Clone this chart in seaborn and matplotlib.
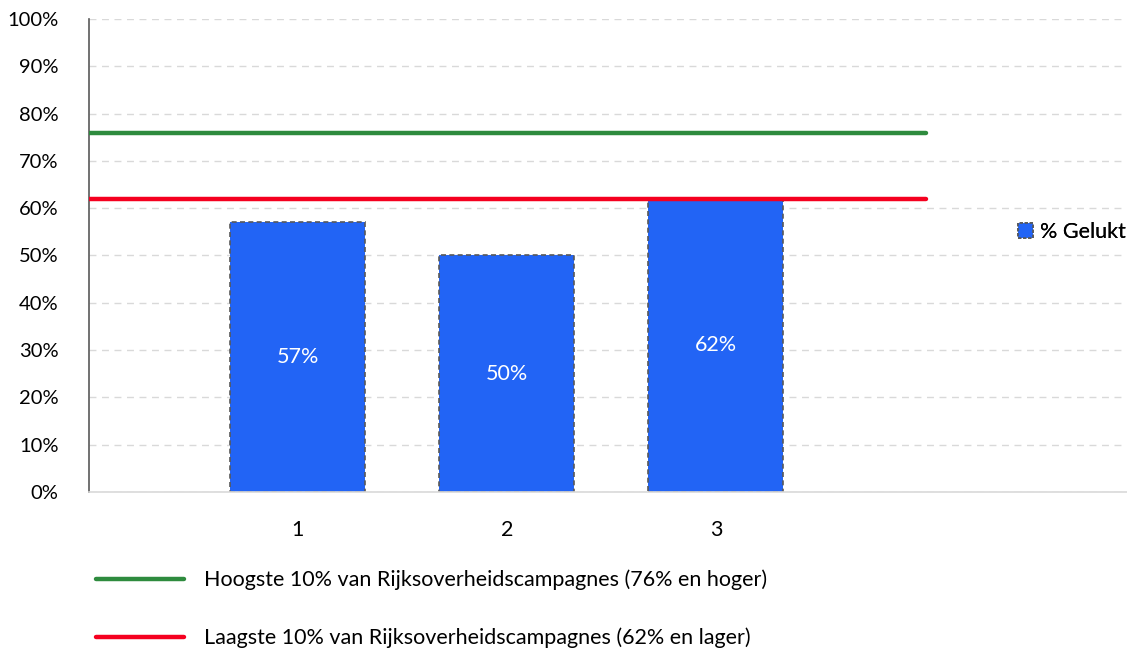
import matplotlib
matplotlib.use("Agg")
import matplotlib.pyplot as plt
from matplotlib.lines import Line2D
from matplotlib.patches import Patch
import seaborn as sns
import pandas as pd

categories = ["1", "2", "3"]
gelukt = [57, 50, 62]
hoogste = 76
laagste = 62
yticks = [0, 10, 20, 30, 40, 50, 60, 70, 80, 90, 100]
bar_label = "% Gelukt"
hoog_label = "Hoogste 10% van Rijksoverheidscampagnes (76% en hoger)"
laag_label = "Laagste 10% van Rijksoverheidscampagnes (62% en lager)"

sns.set_theme(style="white")
plt.rcParams["font.family"] = ["Lato", "DejaVu Sans"]
plt.rcParams["text.color"] = "black"

BLUE = "#2264F5"
GREEN = "#2E8B3E"
RED = "#F5001F"

df = pd.DataFrame({"cat": categories, "val": gelukt})

fig = plt.figure(figsize=(11.27, 6.5), dpi=100)
ax = fig.add_axes([89/1127, 1-492/650, 1-89/1127, (492-19)/650])

sns.barplot(data=df, x="cat", y="val", color=BLUE, width=0.646, ax=ax,
            saturation=1, edgecolor="#595959", linewidth=1.2, linestyle=(0, (3, 2)))
for p in ax.patches:
    p.set_facecolor(BLUE)

ax.set_xlim(-1, 3.967)
ax.set_ylim(0, 100)
ax.set_yticks(yticks)
ax.set_yticklabels([f"{v}%" for v in yticks])
ax.yaxis.grid(True, color="#d9d9d9", linestyle=(0, (5, 4)), linewidth=1)
ax.set_axisbelow(True)
ax.set_xlabel("")
ax.set_ylabel("")
ax.tick_params(axis="both", length=0, colors="black")
ax.tick_params(axis="x", pad=20, labelsize=15.5)
ax.tick_params(axis="y", pad=22, labelsize=14.5)

for s in ["top", "right"]:
    ax.spines[s].set_visible(False)
ax.spines["left"].set_color("#595959")
ax.spines["left"].set_linewidth(1.2)
ax.spines["bottom"].set_color("#d9d9d9")
ax.spines["bottom"].set_linewidth(1.2)

ax.bar_label(ax.containers[0], labels=[f"{v}%" for v in gelukt],
             label_type="center", color="white", fontsize=15.5)

ax.axhline(hoogste, xmin=0, xmax=0.806, color=GREEN, linewidth=3.2,
           solid_capstyle="round", zorder=3)
ax.axhline(laagste, xmin=0, xmax=0.806, color=RED, linewidth=3.2,
           solid_capstyle="round", zorder=3)

leg1 = ax.legend(handles=[Patch(facecolor=BLUE, edgecolor="#595959",
                                linestyle=(0, (2, 1)), linewidth=1.2, label=bar_label)],
                 loc="center left", bbox_to_anchor=(1018/1127, 1-232/650),
                 bbox_transform=fig.transFigure, frameon=False, fontsize=15.5,
                 handlelength=0.7, handleheight=0.7, handletextpad=0.3,
                 borderpad=0, borderaxespad=0, labelcolor="black")
ax.add_artist(leg1)

fig.legend(handles=[Line2D([], [], color=GREEN, linewidth=3.2, label=hoog_label),
                    Line2D([], [], color=RED, linewidth=3.2, label=laag_label)],
           loc="center left", bbox_to_anchor=(96/1127, 1-609/650),
           frameon=False, fontsize=15.5, handlelength=4.1, handletextpad=0.9,
           labelspacing=1.75, borderpad=0, borderaxespad=0, labelcolor="black")

fig.savefig("out.png", dpi=100)
